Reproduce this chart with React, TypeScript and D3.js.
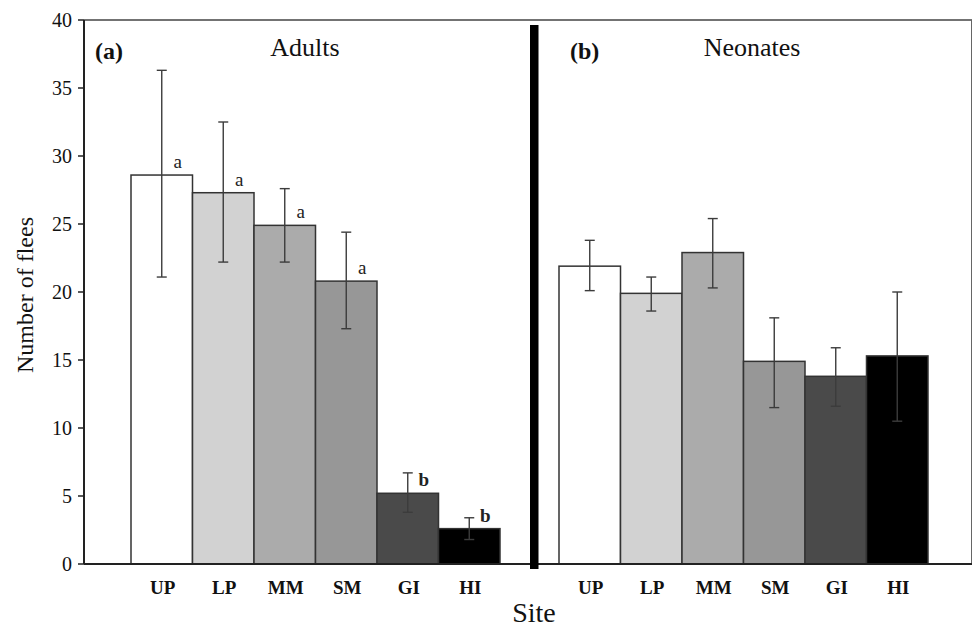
import React from 'react';
import * as d3 from 'd3';

// values
const sites = ['UP', 'LP', 'MM', 'SM', 'GI', 'HI'];
const fills = ['#ffffff', '#d2d2d2', '#ababab', '#979797', '#4a4a4a', '#000000'];

const adultMeans = [28.6, 27.3, 24.9, 20.8, 5.2, 2.6];
const adultUpper = [36.3, 32.5, 27.6, 24.4, 6.7, 3.4];
const adultLower = [21.1, 22.2, 22.2, 17.3, 3.8, 1.8];
const adultLetters = ['a', 'a', 'a', 'a', 'b', 'b'];

const neonateMeans = [21.9, 19.9, 22.9, 14.9, 13.8, 15.3];
const neonateUpper = [23.8, 21.1, 25.4, 18.1, 15.9, 20.0];
const neonateLower = [20.1, 18.6, 20.3, 11.5, 11.6, 10.5];

const yTicks = [0, 5, 10, 15, 20, 25, 30, 35, 40];

const W = 973;
const H = 628;
const font = 'Liberation Serif, Times New Roman, serif';

const y = d3.scaleLinear().domain([0, 40]).range([564, 20]);
const xLeft = d3.scaleBand().domain(sites).range([131, 500]).padding(0);
const xRight = d3.scaleBand().domain(sites).range([559, 928]).padding(0);

const Panel = ({ x, means, upper, lower, letters }) => {
  const bw = x.bandwidth();
  return (
    <g>
      {sites.map((s, i) => (
        <rect key={'b' + s} x={x(s)} y={y(means[i])} width={bw} height={y(0) - y(means[i])}
          fill={fills[i]} stroke="#333" strokeWidth={1.5} />
      ))}
      {sites.map((s, i) => {
        const cx = x(s) + bw / 2;
        return (
          <g key={'e' + s} stroke="#3c3c3c" strokeWidth={1.4}>
            <line x1={cx} x2={cx} y1={y(upper[i])} y2={y(lower[i])} />
            <line x1={cx - 5} x2={cx + 5} y1={y(upper[i])} y2={y(upper[i])} />
            <line x1={cx - 5} x2={cx + 5} y1={y(lower[i])} y2={y(lower[i])} />
          </g>
        );
      })}
      {letters && sites.map((s, i) => (
        <text key={'l' + s} x={x(s) + bw / 2 + 16} y={y(means[i]) - 7} textAnchor="middle"
          fontFamily={font} fontSize={19} fontWeight={letters[i] === 'b' ? 'bold' : 'normal'} fill="#222">
          {letters[i]}
        </text>
      ))}
      {sites.map((s) => (
        <text key={'t' + s} x={x(s) + bw / 2 + 1} y={594} textAnchor="middle"
          fontFamily={font} fontSize={19} fontWeight="bold" fill="#111">
          {s}
        </text>
      ))}
    </g>
  );
};

export default function App() {
  return (
    <svg width={W} height={H} style={{ position: 'absolute', left: 0, top: 0, background: '#fff' }}>
      <rect x={0} y={0} width={W} height={H} fill="#fff" />
      {/* frame */}
      <line x1={84} x2={972} y1={y(40)} y2={y(40)} stroke="#444" strokeWidth={1.5} />
      <line x1={971.5} x2={971.5} y1={y(40)} y2={y(0)} stroke="#666" strokeWidth={1} />

      <Panel x={xLeft} means={adultMeans} upper={adultUpper} lower={adultLower} letters={adultLetters} />
      <Panel x={xRight} means={neonateMeans} upper={neonateUpper} lower={neonateLower} letters={null} />

      {/* axes */}
      <line x1={84} x2={972} y1={y(0)} y2={y(0)} stroke="#222" strokeWidth={2} />
      <line x1={84} x2={84} y1={y(40)} y2={y(0)} stroke="#222" strokeWidth={2} />
      {yTicks.map((t) => (
        <g key={t}>
          <line x1={78} x2={84} y1={y(t)} y2={y(t)} stroke="#222" strokeWidth={1.5} />
          <text x={72} y={y(t)} dy="0.35em" textAnchor="end" fontFamily={font} fontSize={20} fill="#111">
            {t}
          </text>
        </g>
      ))}

      {/* divider */}
      <rect x={530} y={25} width={8.5} height={544} fill="#000" />

      {/* panel titles */}
      <text x={95} y={59} fontFamily={font} fontSize={24} fontWeight="bold" fill="#111">(a)</text>
      <text x={305} y={56} textAnchor="middle" fontFamily={font} fontSize={26} fill="#111">Adults</text>
      <text x={570} y={59} fontFamily={font} fontSize={24} fontWeight="bold" fill="#111">(b)</text>
      <text x={752} y={56} textAnchor="middle" fontFamily={font} fontSize={26} fill="#111">Neonates</text>

      {/* axis titles */}
      <text transform="translate(33,295) rotate(-90)" textAnchor="middle" fontFamily={font} fontSize={24} fill="#111">
        Number of flees
      </text>
      <text x={534} y={622} textAnchor="middle" fontFamily={font} fontSize={28} fill="#111">Site</text>
    </svg>
  );
}
